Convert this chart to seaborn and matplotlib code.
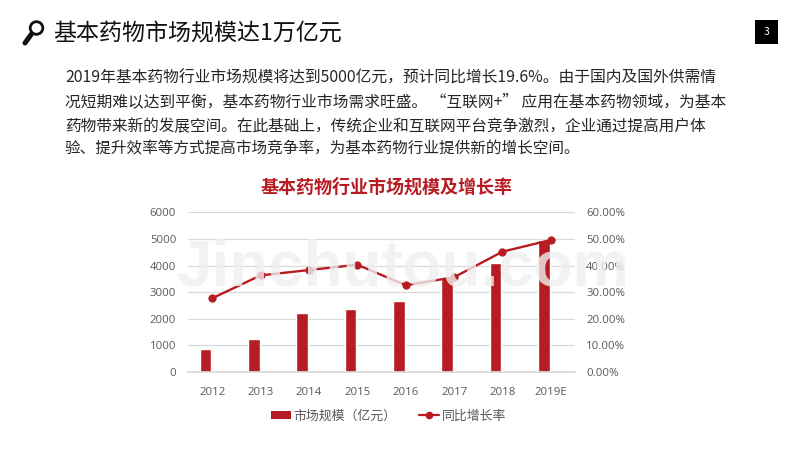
import numpy as np
import pandas as pd
import matplotlib
matplotlib.use('Agg')
import matplotlib.pyplot as plt
from matplotlib.lines import Line2D
from matplotlib.patches import Circle, Patch, Rectangle
from matplotlib.ticker import FuncFormatter
import seaborn as sns

years = ['2012', '2013', '2014', '2015', '2016', '2017', '2018', '2019E']
market_size = [865, 1240, 2220, 2370, 2670, 3520, 4100, 4970]
growth_rate = [27.7, 36.3, 38.3, 40.3, 32.6, 35.6, 45.2, 49.6]

heading = '基本药物市场规模达1万亿元'
body_lines = [
    '2019年基本药物行业市场规模将达到5000亿元，预计同比增长19.6%。由于国内及国外供需情',
    '况短期难以达到平衡，基本药物行业市场需求旺盛。 “互联网+” 应用在基本药物领域，为基本',
    '药物带来新的发展空间。在此基础上，传统企业和互联网平台竞争激烈，企业通过提高用户体',
    '验、提升效率等方式提高市场竞争率，为基本药物行业提供新的增长空间。',
]
chart_title = '基本药物行业市场规模及增长率'
bar_label = '市场规模（亿元）'
line_label = '同比增长率'

RED = '#b71c23'
GRID = '#d9d9d9'
TICK = '#595959'

sns.set_theme(style='white')
plt.rcParams['font.family'] = ['Noto Sans CJK SC', 'DejaVu Sans']

W, H = 800, 450
fig = plt.figure(figsize=(W / 100, H / 100), dpi=100, facecolor='white')

# chart area, pixel box from the reference
left, right, top, bottom = 188, 575, 212.3, 372
ax = fig.add_axes([left / W, 1 - bottom / H, (right - left) / W, (bottom - top) / H])
df = pd.DataFrame({'year': years, 'size': market_size, 'rate': growth_rate})

sns.barplot(data=df, x='year', y='size', color=RED, saturation=1, width=0.24, ax=ax, zorder=2)
# bars sit left of the category centre
for bar in ax.patches:
    bar.set_x(bar.get_x() - 0.14)
ax.set(xlabel='', ylabel='', xlim=(-0.5, 7.5), ylim=(0, 6000))
ax.set_yticks(range(0, 6001, 1000))
ax.yaxis.grid(True, color=GRID, linewidth=0.9, zorder=0)
ax.set_axisbelow(True)
sns.despine(ax=ax, left=True, bottom=False, right=True, top=True)
ax.spines['bottom'].set_color(GRID)
ax.tick_params(axis='both', length=0, labelsize=8.2, labelcolor=TICK)
ax.tick_params(axis='x', pad=10.5)
ax.tick_params(axis='y', pad=8.5)
plt.setp(ax.get_yticklabels(), family='Open Sans')
plt.setp(ax.get_xticklabels(), family='Open Sans')

ax2 = ax.twinx()
sns.lineplot(data=df, x='year', y='rate', color=RED, linewidth=1.7, marker='o', markersize=5.2,
             markeredgecolor=RED, ax=ax2, zorder=3)
ax2.set(xlabel='', ylabel='', ylim=(0, 60))
ax2.set_yticks(range(0, 61, 10))
ax2.yaxis.set_major_formatter(FuncFormatter(lambda v, _: f'{v:.2f}%'))
sns.despine(ax=ax2, left=True, bottom=True, right=True, top=True)
ax2.tick_params(axis='y', length=0, labelsize=8.2, labelcolor=TICK, pad=8)
plt.setp(ax2.get_yticklabels(), family='Open Sans')

handles = [Patch(facecolor=RED, edgecolor='none'),
           Line2D([0], [0], color=RED, linewidth=1.6, marker='o', markersize=4.5)]
leg = fig.legend(handles, [bar_label, line_label], loc='center', ncol=2, frameon=False,
                 bbox_to_anchor=(388.5 / W, 1 - 416 / H), fontsize=9.3, labelcolor=TICK,
                 handlelength=1.6, handleheight=0.62, handletextpad=0.2, columnspacing=1.7)

# page furniture drawn in pixel coordinates
page = fig.add_axes([0, 0, 1, 1], facecolor='none', zorder=5)
page.set_xlim(0, W)
page.set_ylim(H, 0)
page.axis('off')
page.text(53, 34.5, heading, fontsize=16.6, color='#111111', va='center', ha='left')
for text, y, size in zip(body_lines, [78.5, 102, 127, 149.5], [11.37, 11.3, 11.27, 11.25]):
    page.text(65, y, text, fontsize=size, color='#262626', va='center', ha='left')
page.text(386.5, 187, chart_title, fontsize=13, color=RED, fontweight='bold', va='center', ha='center')

page.add_patch(Circle((36.5, 28), 6.3, fill=False, edgecolor='#111111', linewidth=2))
page.plot([31.5, 25], [34, 43], color='#111111', linewidth=3.6, solid_capstyle='round')
page.add_patch(Rectangle((755, 20), 23, 24, facecolor='black', edgecolor='none'))
page.text(766.5, 32, '3', fontsize=7.5, color='white', ha='center', va='center')

# watermark over the chart
page.text(176, 285, 'Jinchutou.com', fontsize=45.8, family='Liberation Sans', fontweight='bold',
          color='#efefef', alpha=0.8, ha='left', va='baseline')

fig.savefig('out.png', dpi=100, facecolor='white')
